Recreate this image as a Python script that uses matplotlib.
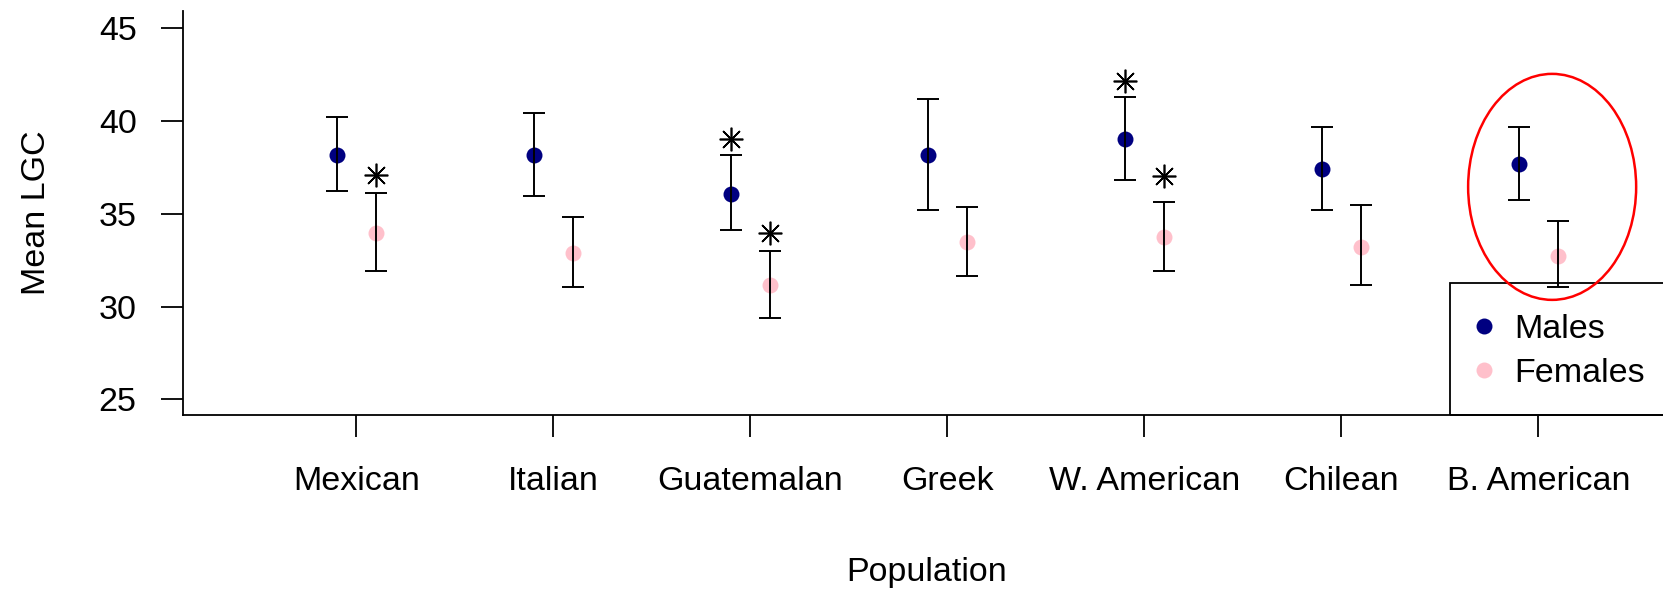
import numpy as np
import matplotlib.pyplot as plt
from matplotlib.patches import Ellipse, Rectangle

plt.rcParams['font.family'] = ['Liberation Sans', 'DejaVu Sans']

# Mean LGC per population, with error bar ends
populations = ['Mexican', 'Italian', 'Guatemalan', 'Greek', 'W. American', 'Chilean', 'B. American']

male_mean = [38.17, 38.17, 36.08, 38.17, 39.05, 37.43, 37.68]
male_upper = [40.19, 40.42, 38.19, 41.18, 41.27, 39.68, 39.66]
male_lower = [36.22, 35.95, 34.11, 35.23, 36.84, 35.23, 35.72]

female_mean = [33.97, 32.89, 31.14, 33.49, 33.74, 33.23, 32.75]
female_upper = [36.10, 34.85, 32.98, 35.36, 35.61, 35.47, 34.60]
female_lower = [31.90, 31.03, 29.41, 31.65, 31.90, 31.14, 31.05]

# significance stars (nan = none)
male_star = [np.nan, np.nan, 39.05, np.nan, 42.14, np.nan, np.nan]
female_star = [37.07, np.nan, 33.97, np.nan, 37.04, np.nan, np.nan]

highlight = 'B. American'

male_col = '#000080'
female_col = '#FFC0CB'
fs = 24.5

fig = plt.figure(figsize=(16.63, 5.93), dpi=100)
ax = fig.add_axes([0.110, 0.300, 0.895, 0.6815])

x = np.arange(1, len(populations) + 1)
off = 0.1

ax.plot(x - off, male_mean, 'o', color=male_col, ms=11.5, mec='none', label='Males', zorder=2)
ax.plot(x + off, female_mean, 'o', color=female_col, ms=11.5, mec='none', label='Females', zorder=2)

m = np.array(male_mean)
f = np.array(female_mean)
ax.errorbar(x - off, m, yerr=[m - np.array(male_lower), np.array(male_upper) - m],
            fmt='none', ecolor='black', elinewidth=1.4, capsize=7.9, capthick=1.4, zorder=3)
ax.errorbar(x + off, f, yerr=[f - np.array(female_lower), np.array(female_upper) - f],
            fmt='none', ecolor='black', elinewidth=1.4, capsize=7.9, capthick=1.4, zorder=3)

# asterisks (like R pch=8)
ax.plot(x - off, male_star, ls='none', marker=(8, 2, 0), ms=17, mew=1.2, color='black')
ax.plot(x + off, female_star, ls='none', marker=(8, 2, 0), ms=17, mew=1.2, color='black')

# red ring round the highlighted group
hx = populations.index(highlight) + 1
ax.add_patch(Ellipse((hx + 0.07, 36.45), 0.853, 12.18, fill=False, ec='red', lw=1.8, zorder=4))

ax.set_xlim(0.119, 7.675)
ax.set_ylim(24.15, 45.93)
ax.set_xticks(x)
ax.set_xticklabels(populations)
ax.set_yticks([25, 30, 35, 40, 45])

ax.tick_params(axis='both', direction='out', length=15.5, width=1.3, labelsize=fs)
ax.tick_params(axis='y', pad=17.8)
ax.tick_params(axis='x', pad=21)

for s in ['top', 'right']:
    ax.spines[s].set_visible(False)
for s in ['left', 'bottom']:
    ax.spines[s].set_linewidth(1.3)

ax.set_xlabel('Population', fontsize=fs)
ax.xaxis.set_label_coords(0.5, -0.352)
ax.set_ylabel('Mean LGC', fontsize=fs)
ax.yaxis.set_label_coords(-0.088, 0.5)

# legend box (runs off the right edge like the original)
ax.add_patch(Rectangle((0.8515, 0), 0.25, 0.326, transform=ax.transAxes, fill=False,
                       ec='black', lw=1.3, clip_on=False, zorder=1))
leg = ax.legend(loc='center left', bbox_to_anchor=(0.8673, 0.158), borderaxespad=0,
                fontsize=fs, handlelength=0.6, handletextpad=0.6, labelspacing=0.38,
                borderpad=0, frameon=False, numpoints=1)

fig.savefig('out.png', dpi=100)
